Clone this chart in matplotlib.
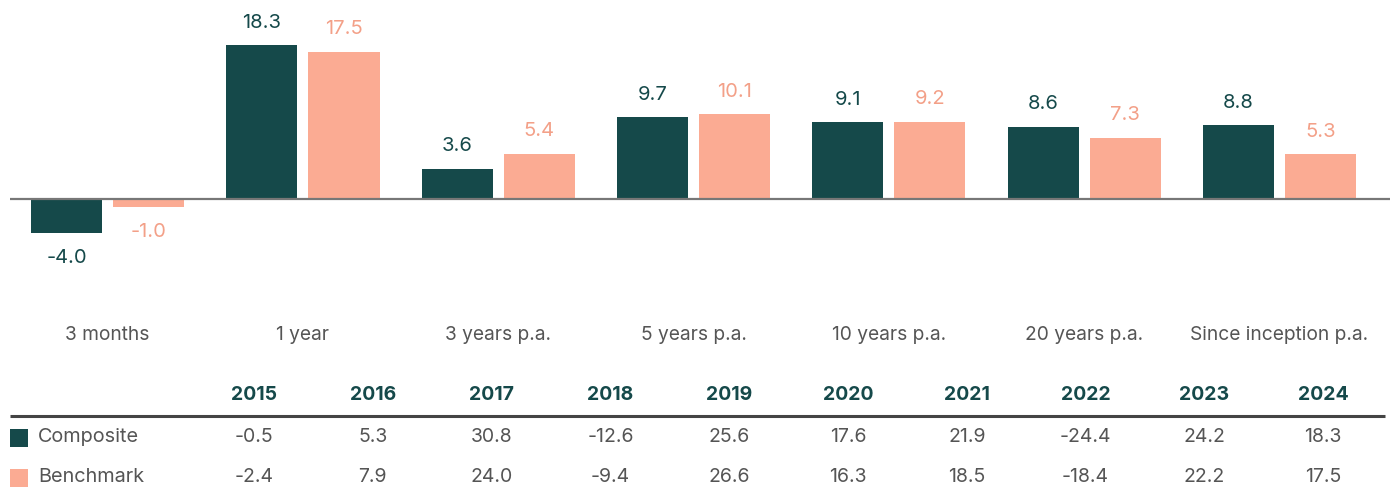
"""
Composite vs benchmark returns: period bars on top, calendar-year table below.
Saves out.png (1390x496).
"""

import numpy as np
import matplotlib.pyplot as plt

plt.rcParams["font.family"] = ["Inter", "DejaVu Sans"]

# ---- data ----
periods = ["3 months", "1 year", "3 years p.a.", "5 years p.a.",
           "10 years p.a.", "20 years p.a.", "Since inception p.a."]
composite = [-4.0, 18.3, 3.6, 9.7, 9.1, 8.6, 8.8]
benchmark = [-1.0, 17.5, 5.4, 10.1, 9.2, 7.3, 5.3]

years = ["2015", "2016", "2017", "2018", "2019",
         "2020", "2021", "2022", "2023", "2024"]
composite_yearly = [-0.5, 5.3, 30.8, -12.6, 25.6, 17.6, 21.9, -24.4, 24.2, 18.3]
benchmark_yearly = [-2.4, 7.9, 24.0, -9.4, 26.6, 16.3, 18.5, -18.4, 22.2, 17.5]

DARK = "#15494a"
SALMON = "#fbab93"
SALMON_TXT = "#f3a088"
GREY = "#555555"

W, H = 1390, 496


def main() -> None:
    fig = plt.figure(figsize=(W / 100, H / 100), dpi=100)

    # ---- table (pixel coordinates) ----
    tab = fig.add_axes([0, 0, 1, 1])
    tab.set_xlim(0, W)
    tab.set_ylim(H, 0)
    tab.axis("off")

    col_x = 254 + 118.8 * np.arange(len(years))
    for x, yr in zip(col_x, years):
        tab.text(x, 395, yr, ha="center", va="center", fontsize=14,
                 fontweight="bold", color=DARK)
    tab.plot([10, 1385], [416, 416], color="#444444", lw=2.2,
             solid_capstyle="butt")

    rows = [("Composite", composite_yearly, DARK, 437.5),
            ("Benchmark", benchmark_yearly, SALMON, 477.5)]
    for name, vals, col, y in rows:
        tab.scatter([19], [y], marker="s", s=150, color=col, linewidths=0)
        tab.text(38, y, name, ha="left", va="center", fontsize=14.3,
                 color=GREY)
        for x, v in zip(col_x, vals):
            tab.text(x, y, f"{v:.1f}", ha="center", va="center",
                     fontsize=14, color=GREY)

    # ---- bar chart ----
    px_per_unit = 8.42
    zero_y = 199
    ax_bottom_px = 300
    ax = fig.add_axes([10 / W, (H - ax_bottom_px) / H,
                       1380 / W, ax_bottom_px / H])
    ax.patch.set_alpha(0)
    ax.set_ylim(-(ax_bottom_px - zero_y) / px_per_unit, zero_y / px_per_unit)
    ax.set_xlim(-0.5, -0.5 + 1380 / 195.3)

    x = np.arange(len(periods))
    bw = 0.364
    off = 0.21
    ax.bar(x - off, composite, bw, color=DARK)
    ax.bar(x + off, benchmark, bw, color=SALMON)
    ax.axhline(0, color="#777777", lw=1.6)

    for xi, c, b in zip(x, composite, benchmark):
        for xx, v, col in ((xi - off, c, DARK), (xi + off, b, SALMON_TXT)):
            ax.annotate(f"{v:.1f}", (xx, v), xytext=(0, 16 if v >= 0 else -18),
                        textcoords="offset points", ha="center", va="center",
                        fontsize=14.5, color=col)

    ax.set_xticks(x, periods)
    ax.tick_params(axis="x", length=0, pad=18.5, labelsize=13.8,
                   labelcolor=GREY)
    ax.set_yticks([])
    for s in ax.spines.values():
        s.set_visible(False)

    fig.savefig("out.png", dpi=100)
    plt.close(fig)


if __name__ == "__main__":
    main()
